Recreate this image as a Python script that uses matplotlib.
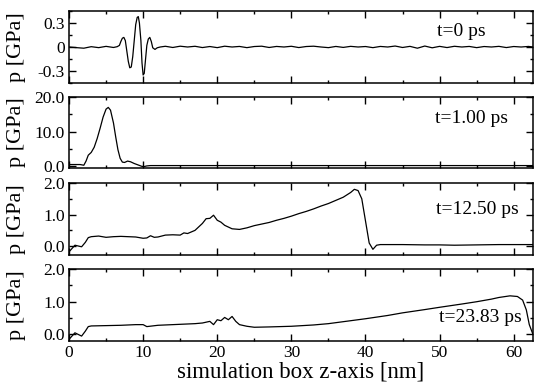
import matplotlib
matplotlib.use("Agg")
import matplotlib.pyplot as plt
from matplotlib.ticker import MultipleLocator

plt.rcParams['font.family'] = ['Liberation Serif', 'DejaVu Serif']

# t = 0 ps
x0 = [0, 1, 2, 3, 4, 5, 6, 6.5, 6.8, 7.0, 7.2, 7.4, 7.6, 7.8, 8.0, 8.2, 8.4, 8.6, 8.8,
      9.0, 9.2, 9.35, 9.5, 9.7, 9.85, 10.0, 10.15, 10.3, 10.5, 10.7, 10.9, 11.1, 11.3,
      11.6, 11.9, 12.3, 13, 14, 15, 16, 17, 18, 19, 20, 21, 22, 23, 24, 25, 26, 27, 28,
      29, 30, 31, 32, 33, 34, 35, 36, 37, 38, 39, 40, 41, 42, 43, 44, 45, 46, 47, 48,
      49, 50, 51, 52, 53, 54, 55, 56, 57, 58, 59, 60, 61, 62, 62.6]
p0 = [0.0, -0.008, -0.015, 0.004, -0.008, 0.008, -0.006, 0.004, 0.02, 0.07, 0.11, 0.12,
      0.08, -0.05, -0.18, -0.26, -0.25, -0.12, 0.08, 0.28, 0.37, 0.38, 0.30, 0.08, -0.20,
      -0.35, -0.33, -0.18, 0.02, 0.10, 0.12, 0.07, -0.01, -0.03, -0.01, 0.0, 0.009, -0.006,
      0.01, 0.0, 0.009, -0.007, 0.006, -0.008, 0.01, 0.0, 0.007, -0.008, 0.006, 0.01,
      -0.006, 0.007, 0.0, 0.009, -0.007, 0.006, 0.01, 0.0, -0.008, 0.007, -0.005, 0.008,
      0.0, 0.006, -0.008, 0.007, 0.0, 0.012, -0.006, 0.008, -0.015, 0.012, -0.01, 0.008,
      -0.007, 0.009, 0.0, 0.007, -0.008, 0.006, 0.0, 0.008, -0.007, 0.006, 0.0, 0.007, 0.0]

# t = 1.00 ps
x1 = [0, 1, 1.5, 2.0, 2.3, 2.6, 3.0, 3.4, 3.8, 4.2, 4.6, 5.0, 5.3, 5.6, 6.0, 6.3, 6.6,
      6.9, 7.2, 7.5, 7.9, 8.3, 8.8, 9.3, 9.8, 10.1, 10.5, 11, 15, 20, 25, 30, 35, 40, 45,
      50, 55, 60, 62.6]
p1 = [0.5, 0.5, 0.5, 0.3, 1.5, 3.2, 4.0, 5.5, 8.0, 11.0, 14.2, 16.5, 17.0, 16.2, 12.5,
      8.5, 4.8, 2.3, 1.2, 1.1, 1.5, 1.3, 0.8, 0.4, 0.0, -0.1, 0.1, 0.2, 0.2, 0.2, 0.2, 0.2,
      0.2, 0.2, 0.2, 0.2, 0.2, 0.2, 0.2]

# t = 12.50 ps
x2 = [0, 0.8, 1.7, 2.2, 2.6, 3, 4, 5, 6, 7, 8, 9, 10, 10.5, 11, 11.5, 12, 13, 14, 15,
      15.5, 16, 17, 18, 18.5, 19, 19.5, 20, 20.5, 21, 22, 23, 24, 25, 26, 27, 28, 29, 30,
      31, 32, 33, 34, 35, 36, 37, 38, 38.5, 39, 39.5, 40, 40.5, 41, 41.5, 42, 45, 48, 50,
      52, 55, 58, 60, 62.6]
p2 = [-0.18, 0.03, -0.02, 0.12, 0.27, 0.30, 0.32, 0.28, 0.30, 0.31, 0.30, 0.29, 0.25,
      0.26, 0.33, 0.28, 0.29, 0.35, 0.36, 0.35, 0.42, 0.40, 0.50, 0.72, 0.87, 0.88, 0.98,
      0.82, 0.76, 0.66, 0.55, 0.53, 0.58, 0.65, 0.70, 0.75, 0.82, 0.88, 0.95, 1.03, 1.10,
      1.18, 1.27, 1.35, 1.45, 1.55, 1.70, 1.80, 1.76, 1.50, 0.80, 0.10, -0.10, 0.03, 0.05,
      0.05, 0.04, 0.04, 0.03, 0.04, 0.05, 0.05, 0.05]

# t = 23.83 ps
x3 = [0, 0.8, 1.7, 2.2, 2.6, 3, 5, 7, 9, 10, 10.5, 12, 14, 16, 17, 18, 19, 19.5, 20, 20.5,
      21, 21.5, 22, 22.5, 23, 24, 25, 27, 30, 33, 35, 38, 40, 43, 45, 48, 50, 53, 55, 57,
      58, 59.5, 60.5, 61.2, 61.7, 62.1, 62.6]
p3 = [-0.15, 0.05, -0.05, 0.10, 0.24, 0.26, 0.27, 0.28, 0.30, 0.30, 0.24, 0.28, 0.30,
      0.32, 0.33, 0.35, 0.40, 0.30, 0.45, 0.42, 0.52, 0.45, 0.55, 0.40, 0.30, 0.25, 0.22,
      0.23, 0.25, 0.29, 0.33, 0.42, 0.48, 0.58, 0.66, 0.76, 0.83, 0.93, 1.00, 1.08, 1.13,
      1.18, 1.16, 1.05, 0.75, 0.30, 0.0]

labels = ["t=0 ps", "t=1.00 ps", "t=12.50 ps", "t=23.83 ps"]
ylims = [(-0.45, 0.45), (-0.5, 20.0), (-0.28, 2.0), (-0.2, 2.0)]
yticks = [[-0.3, 0, 0.3], [0, 10, 20], [0, 1, 2], [0, 1, 2]]
yticklabels = [["-0.3", "0", "0.3"], ["0.0", "10.0", "20.0"],
               ["0.0", "1.0", "2.0"], ["0.0", "1.0", "2.0"]]
yminor = [0.15, 5, 0.5, 0.5]
label_pos = [(0.897, 0.71), (0.947, 0.70), (0.97, 0.625), (0.976, 0.32)]

fig = plt.figure(figsize=(5.34, 3.83), dpi=100)
W, H = 534, 383
left, right = 69, 533
tops = [11, 97, 183, 269]
bots = [83, 168, 255, 341]

series = [(x0, p0), (x1, p1), (x2, p2), (x3, p3)]
for i, (xs, ps) in enumerate(series):
    ax = fig.add_axes([left / W, 1 - bots[i] / H, (right - left) / W, (bots[i] - tops[i]) / H])
    ax.plot(xs, ps, color='black', lw=0.9)
    ax.set_xlim(0, 62.6)
    ax.set_ylim(*ylims[i])
    ax.set_yticks(yticks[i])
    ax.set_yticklabels(yticklabels[i])
    ax.yaxis.set_minor_locator(MultipleLocator(yminor[i]))
    ax.xaxis.set_major_locator(MultipleLocator(10))
    ax.xaxis.set_minor_locator(MultipleLocator(5))
    ax.tick_params(which='both', direction='in', top=True, right=True, width=1.0)
    ax.tick_params(which='major', length=5, labelsize=12.5, pad=3)
    ax.tick_params(which='minor', length=2.5)
    for s in ax.spines.values():
        s.set_linewidth(1.1)
    ax.set_ylabel("p [GPa]", fontsize=16, labelpad=2)
    ax.yaxis.set_label_coords(-0.093, 0.5)
    ax.text(label_pos[i][0], label_pos[i][1], labels[i], transform=ax.transAxes,
            ha='right', va='center', fontsize=14)
    if i < 3:
        ax.tick_params(labelbottom=False)
    else:
        ax.set_xlabel("simulation box z-axis [nm]", fontsize=16.5, labelpad=0)

fig.savefig("out.png", dpi=100)
